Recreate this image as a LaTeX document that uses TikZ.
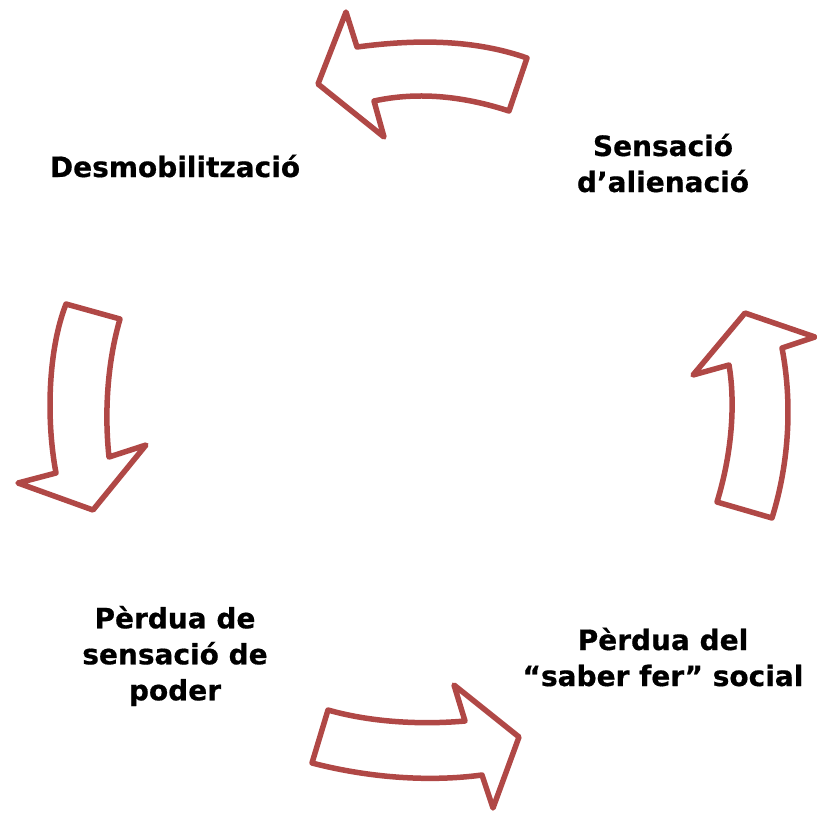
\documentclass[tikz,border=0pt]{standalone}
\usepackage{fontspec}
\setmainfont{DejaVu Sans}
\newfontfamily\lblfont{DejaVu Sans Bold}[FakeBold=0.6]
\definecolor{arrowred}{RGB}{176,72,70}
\begin{document}
\begin{tikzpicture}[x=1pt,y=-1pt,
  blockarrow/.style={draw=arrowred,line width=5.5pt,line join=round,fill=white},
  label/.style={align=center,font=\fontsize{28}{36}\lblfont,inner sep=0pt}]
\useasboundingbox (0,0) rectangle (817,812);
% top arrow (pointing left)
\draw[blockarrow] (527,58) .. controls (470,38) and (410,40) .. (357,47) -- (346,12) -- (318,84) -- (384,137) -- (374,101) .. controls (415,92) and (460,95) .. (509,111) -- cycle;
% right arrow (pointing up)
\draw[blockarrow] (717,502) .. controls (733,450) and (735,400) .. (729,365) -- (693,375) -- (745,313) -- (815,337) -- (782,348) .. controls (792,400) and (790,460) .. (772,518) -- cycle;
% bottom arrow (pointing right)
\draw[blockarrow] (328,710) .. controls (370,722) and (420,725) .. (465,721) -- (454,685) -- (519,737) -- (493,808) -- (482,775) .. controls (430,782) and (370,778) .. (312,763) -- cycle;
% left arrow (pointing down)
\draw[blockarrow] (66,304) -- (120,319) .. controls (108,360) and (104,410) .. (109,457) -- (146,445) -- (93,510) -- (18,483) -- (56,473) .. controls (46,420) and (48,350) .. (66,304) -- cycle;
\node[label] (desmob) at (175,166) {Desmobilització};
\node[label] (alien) at (663,163) {Sensació\\d’alienació};
\node[label] (poder) at (175,656) {Pèrdua de\\sensació de\\poder};
\node[label] (saber) at (663,657) {Pèrdua del\\“saber fer” social};
\end{tikzpicture}
\end{document}
